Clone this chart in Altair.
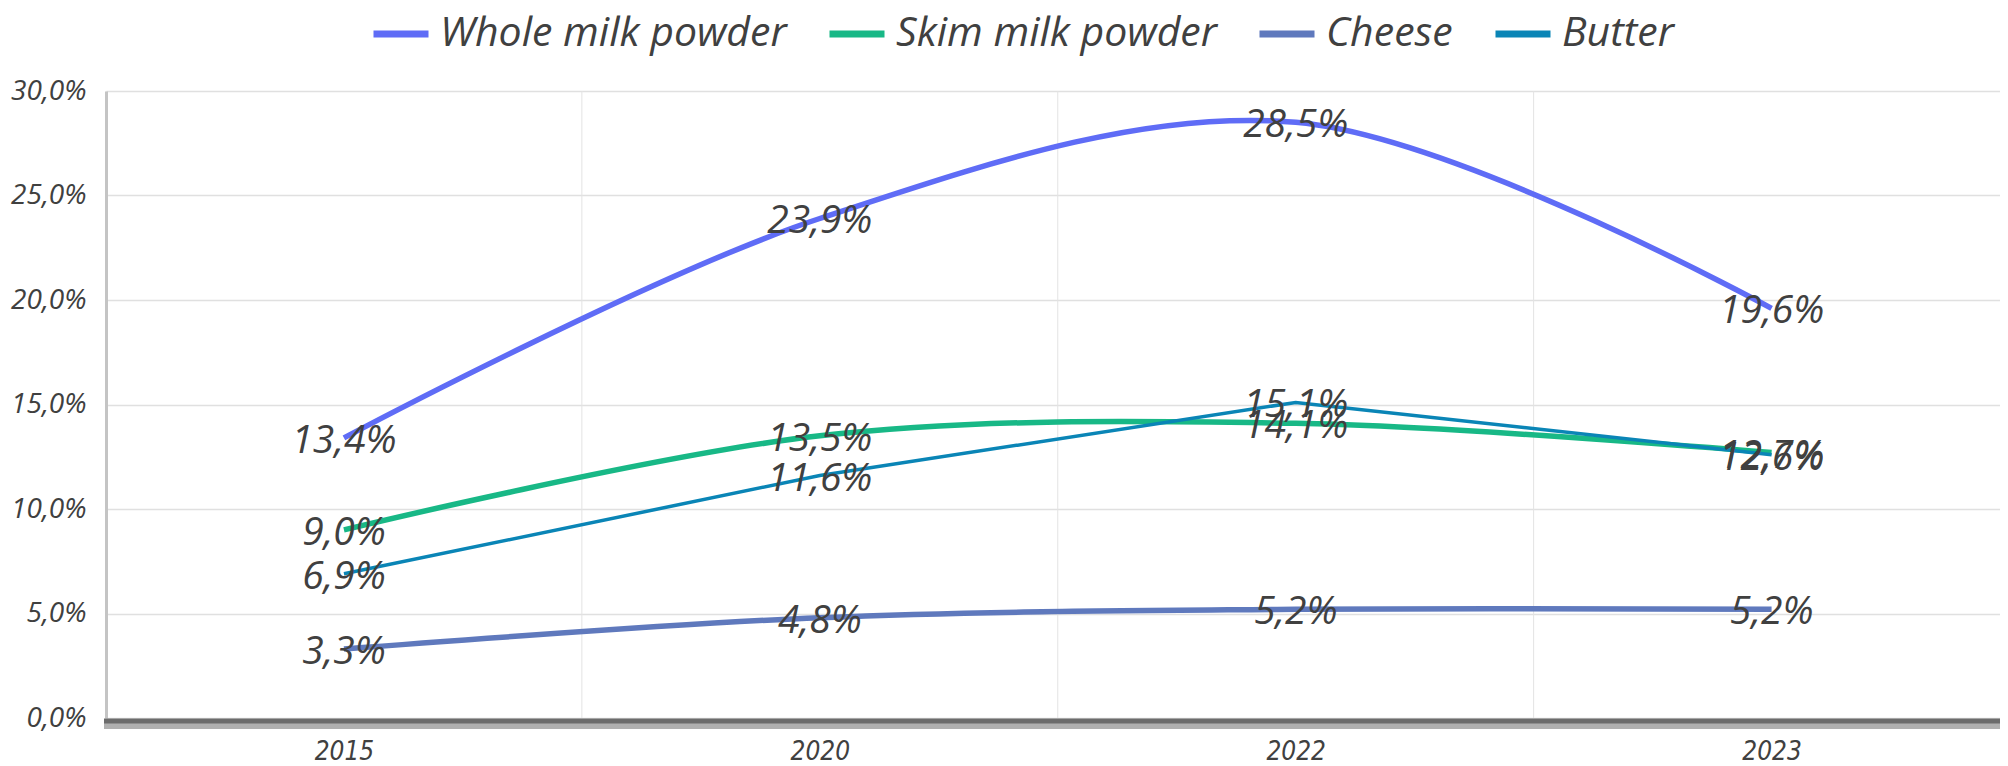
import altair as alt
import pandas as pd

years = ["2015", "2020", "2022", "2023"]
series = ["Whole milk powder", "Skim milk powder", "Cheese", "Butter"]
colors = ["#5F6CF6", "#18B886", "#5F79BD", "#0A85B6"]
whole_milk = [13.4, 23.9, 28.5, 19.6]
skim_milk = [9.0, 13.5, 14.1, 12.7]
cheese = [3.3, 4.8, 5.2, 5.2]
butter = [6.9, 11.6, 15.1, 12.6]
vgrid = [0.5, 1.5, 2.5]

rows = []
for name, vals in zip(series, [whole_milk, skim_milk, cheese, butter]):
    for i, v in enumerate(vals):
        rows.append({"series": name, "idx": i, "year": years[i], "value": v})
df = pd.DataFrame(rows)
smooth_df = df[df.series != "Butter"]
butter_df = df[df.series == "Butter"]
grid_df = pd.DataFrame({"pos": vgrid})
base_df = pd.DataFrame({"v": [0]})

xscale = alt.Scale(domain=[-0.5, 3.48], nice=False, zero=False)
yscale = alt.Scale(domain=[0, 30], nice=False)
color = alt.Color("series:N", scale=alt.Scale(domain=series, range=colors),
                  sort=series, legend=alt.Legend(title=None))

label_expr = "[" + ",".join("'%s'" % y for y in years) + "][datum.value]"

xaxis = alt.Axis(values=[0, 1, 2, 3], labelExpr=label_expr, grid=False, domain=False,
                 ticks=False, tickSize=0,
                 labelFont="'DejaVu Sans Condensed', 'Liberation Sans Narrow', Roboto, sans-serif",
                 labelFontStyle="italic", labelFontSize=26, labelColor="#404040",
                 labelPadding=33, labelBaseline="middle", title=None)
yaxis = alt.Axis(values=[0, 5, 10, 15, 20, 25, 30],
                 labelExpr="replace(format(datum.value, '.1f'), '.', ',') + '%'",
                 grid=True, gridColor="#e0e0e0", gridWidth=1.5,
                 domain=True, domainColor="#c4c4c4", domainWidth=3,
                 ticks=False, tickSize=0, labelFont="Open Sans", labelFontStyle="italic",
                 labelFontSize=28, labelColor="#404040", labelPadding=20,
                 labelBaseline="middle", title=None)

vlines = alt.Chart(grid_df).mark_rule(color="#e3e3e3", strokeWidth=1).encode(
    x=alt.X("pos:Q", scale=xscale, axis=xaxis)
)

smooth = alt.Chart(smooth_df).mark_line(interpolate="catmull-rom", strokeWidth=5.5).encode(
    x=alt.X("idx:Q", scale=xscale, axis=xaxis),
    y=alt.Y("value:Q", scale=yscale, axis=yaxis),
    color=color,
    detail="series:N",
)

butter_line = alt.Chart(butter_df).mark_line(strokeWidth=3.5).encode(
    x=alt.X("idx:Q", scale=xscale, axis=xaxis),
    y=alt.Y("value:Q", scale=yscale, axis=yaxis),
    color=color,
)

labels = alt.Chart(df).transform_calculate(
    lbl="replace(format(datum.value, '.1f'), '.', ',') + '%'"
).mark_text(font="Open Sans", fontStyle="italic", fontSize=39, color="#404040",
            align="center", baseline="middle", dy=3).encode(
    x=alt.X("idx:Q", scale=xscale, axis=xaxis),
    y=alt.Y("value:Q", scale=yscale, axis=yaxis),
    text="lbl:N",
)

shadow1 = alt.Chart(base_df).mark_rule(color="#6c6c6c", strokeWidth=5, yOffset=3).encode(
    y=alt.Y("v:Q", scale=yscale, axis=yaxis), x=alt.value(-2), x2=alt.value(1900)
)
shadow2 = alt.Chart(base_df).mark_rule(color="#b0b0b0", strokeWidth=6, yOffset=8).encode(
    y=alt.Y("v:Q", scale=yscale, axis=yaxis), x=alt.value(-2), x2=alt.value(1900)
)

chart = alt.layer(vlines, shadow2, shadow1, smooth, butter_line, labels).properties(
    width=1894, height=627,
    autosize=alt.AutoSizeParams(type="none"),
    padding={"left": 98, "top": 83, "right": 0, "bottom": 46},
).configure_view(stroke=None).configure_legend(
    orient="none", legendX=264, legendY=-88, direction="horizontal",
    symbolType="stroke", symbolStrokeWidth=7, symbolSize=3025,
    labelFont="Open Sans", labelFontStyle="italic", labelFontSize=41,
    labelColor="#404040", labelOffset=8, columnPadding=28, padding=0,
    labelLimit=0, title=None,
)

chart.save("out.html", embed_options={"renderer": "svg", "actions": False})
